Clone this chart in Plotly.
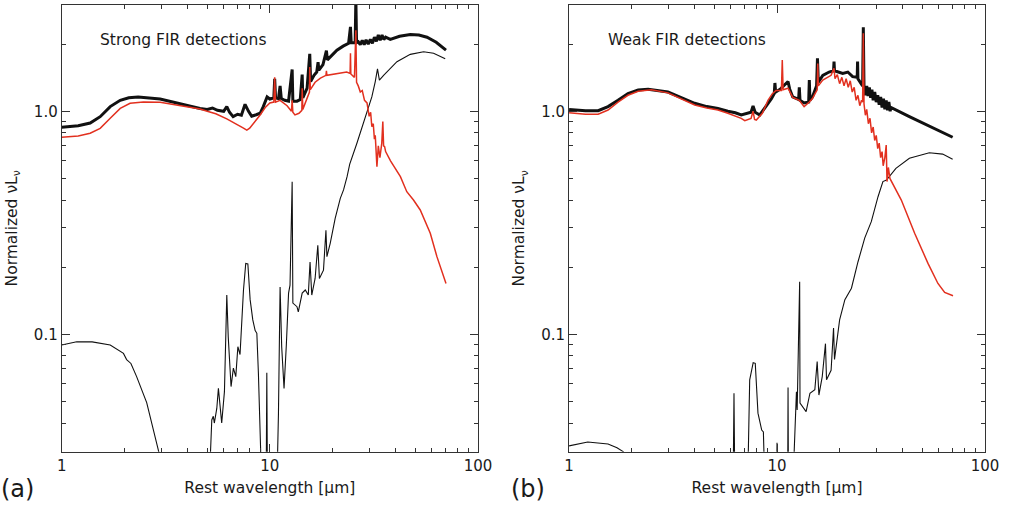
import plotly.graph_objects as go

# ---------------- Panel (a): Strong FIR detections ----------------
wl_a_total = [1.0, 1.2, 1.37, 1.53, 1.71, 1.91, 2.1, 2.33, 2.97, 3.70, 4.62, 5.0, 5.3, 5.6, 6.0, 6.21, 6.4,
              6.66, 7.0, 7.3, 7.6, 7.9, 8.18, 8.6, 8.98, 9.3, 9.7, 10.0, 10.45, 10.55, 10.65, 11.0, 11.2, 11.35,
              11.8, 12.3, 12.8, 12.9, 13.5, 14.0, 14.3, 14.4, 15.1, 15.55, 15.7, 16.3, 16.8, 17.05, 17.2, 18.0,
              18.7, 18.9, 21.0, 22.5, 23.9, 24.4, 24.6, 25.7, 25.9, 26.1, 26.6, 27.2, 27.8, 28.4, 29.0, 29.7,
              30.4, 31.1, 31.8, 32.5, 33.2, 33.9, 34.6, 35.3, 36.0, 37.9, 42.0, 47.3, 52.0, 56.9, 63.0, 70.2]
a_total = [0.848, 0.862, 0.886, 0.946, 1.05, 1.12, 1.15, 1.16, 1.135, 1.08, 1.03, 1.02, 1.035, 1.01, 1.0, 1.05, 0.99,
           0.946, 0.97, 0.96, 1.075, 1.0, 0.95, 0.965, 0.98, 1.05, 1.16, 1.135, 1.15, 1.40, 1.15, 1.14, 1.30, 1.14,
           1.12, 1.11, 1.54, 1.11, 1.11, 1.13, 1.46, 1.15, 1.27, 1.81, 1.36, 1.45, 1.50, 1.66, 1.53, 1.62,
           1.87, 1.70, 1.88, 1.96, 2.02, 2.39, 2.03, 2.03, 3.2, 2.03, 2.05, 1.99, 2.08, 1.99, 2.09, 2.0,
           2.10, 2.02, 2.15, 2.06, 2.20, 2.08, 2.20, 2.10, 2.15, 2.10, 2.17, 2.21, 2.20, 2.15, 2.04, 1.88]

wl_a_red = [1.0, 1.2, 1.37, 1.53, 1.71, 1.91, 2.13, 2.47, 2.97, 3.70, 4.62, 5.0, 5.5, 6.21, 6.6, 7.0, 7.4, 7.75,
            8.0, 8.5, 8.98, 9.5, 10.0, 10.45, 10.55, 10.65, 11.2, 12.1, 12.7, 12.8, 12.9, 13.2, 13.8, 14.25, 14.3,
            14.4, 15.0, 15.5, 15.55, 15.65, 16.5, 17.5, 18.6, 18.7, 18.8, 21.0, 23.4, 24.3, 24.4, 24.5, 25.5, 25.9,
            26.1, 26.6, 27.2, 27.8, 28.5, 29.3, 30.0, 30.5, 30.9, 31.4, 31.8, 32.1, 32.4, 32.7, 33.2, 33.8, 34.5,
            34.9, 35.2, 35.6, 36.0, 38.0, 42.4, 45.5, 49.0, 52.8, 59.0, 63.5, 70.2]
a_red = [0.765, 0.775, 0.797, 0.839, 0.93, 1.03, 1.086, 1.10, 1.097, 1.056, 1.024, 1.0, 0.975, 0.925, 0.90, 0.87,
         0.845, 0.824, 0.84, 0.90, 0.963, 1.04, 1.09, 1.10, 1.42, 1.10, 1.12, 1.06, 1.0, 1.12, 0.99, 0.963, 0.98,
         1.01, 1.27, 1.02, 1.12, 1.22, 1.58, 1.25, 1.35, 1.41, 1.45, 1.52, 1.45, 1.47, 1.50, 1.48, 1.82, 1.47,
         1.42, 2.31, 1.35, 1.30, 1.22, 1.24, 1.12, 1.09, 0.95, 0.99, 0.853, 0.88, 0.75, 0.78, 0.66, 0.564,
         0.70, 0.62, 0.72, 0.90, 0.70, 0.694, 0.66, 0.60, 0.509, 0.436, 0.40, 0.361, 0.284, 0.223, 0.169]

wl_a_star = [1.0, 1.18, 1.4, 1.71, 1.98, 2.05, 2.15, 2.29, 2.56, 2.89, 3.0]
a_star = [0.0895, 0.0926, 0.0925, 0.0895, 0.0821, 0.077, 0.074, 0.0646, 0.0494, 0.0303, 0.027]

wl_a_sb = [5.10, 5.26, 5.35, 5.41, 5.56, 5.66, 5.87, 6.05, 6.21, 6.31, 6.51, 6.68, 6.86, 7.02, 7.19, 7.47, 7.66,
           7.84, 8.04, 8.28, 8.50, 8.66, 8.81, 8.98, 9.15, 9.6, 9.67, 9.74, 10.8, 11.0, 11.2, 11.4, 11.7, 12.0,
           12.3, 12.5, 12.8, 12.9, 13.5, 13.7, 14.3, 14.8, 15.3, 15.6, 15.9, 16.5, 17.0, 17.3, 18.1, 18.6, 18.8,
           19.5, 20.6, 21.8, 22.6, 23.5, 24.2, 26.2, 29.3, 30.9, 32.1, 32.9, 33.6, 35.2, 40.8, 47.3, 54.8, 61.2,
           69.6]
a_sb = [0.02, 0.0413, 0.0429, 0.0400, 0.0465, 0.0572, 0.0400, 0.0553, 0.150, 0.0976, 0.0583, 0.0705, 0.0646,
        0.0880, 0.0811, 0.158, 0.208, 0.207, 0.143, 0.116, 0.104, 0.101, 0.0669, 0.0413, 0.02, 0.02, 0.0673, 0.02,
        0.02, 0.0443, 0.163, 0.088, 0.0572, 0.0895, 0.153, 0.166, 0.483, 0.138, 0.133, 0.126, 0.153, 0.158, 0.150,
        0.211, 0.150, 0.178, 0.251, 0.178, 0.194, 0.293, 0.223, 0.256, 0.331, 0.407, 0.444, 0.509, 0.58, 0.719,
        0.979, 1.16, 1.36, 1.55, 1.38, 1.45, 1.67, 1.80, 1.85, 1.82, 1.72]

# ---------------- Panel (b): Weak FIR detections ----------------
wl_b_total = [1.0, 1.2, 1.38, 1.54, 1.72, 1.92, 2.15, 2.40, 2.99, 3.47, 4.02, 4.6, 5.2, 5.8, 6.3, 6.73, 7.2, 7.5,
              7.67, 7.85, 8.26, 8.8, 9.4, 9.7, 9.77, 9.85, 10.4, 11.3, 11.5, 11.9, 12.7, 12.8, 12.9, 13.5, 14.2,
              14.3, 14.4, 14.8, 15.5, 15.65, 15.8, 16.6, 17.8, 18.7, 18.8, 18.9, 20.7, 21.9, 23.1, 24.3, 24.4, 24.5,
              25.8, 26.0, 26.2, 26.6, 27.0, 27.4, 27.8, 28.2, 28.6, 29.0, 29.5, 30.0, 30.5, 31.0, 31.5, 32.0, 32.5,
              33.0, 33.5, 34.0, 34.5, 35.0, 35.3, 43.3, 54.0, 69.9]
b_total = [1.02, 1.005, 1.006, 1.05, 1.12, 1.20, 1.245, 1.255, 1.22, 1.155, 1.086, 1.05, 1.03, 1.0, 0.985, 0.963,
           0.975, 0.99, 1.056, 0.99, 0.963, 1.04, 1.14, 1.2, 1.34, 1.22, 1.26, 1.36, 1.26, 1.16, 1.13, 1.28, 1.12,
           1.09, 1.10, 1.38, 1.12, 1.16, 1.30, 1.73, 1.35, 1.45, 1.50, 1.52, 1.67, 1.52, 1.48, 1.50, 1.43, 1.42,
           1.67, 1.40, 1.30, 2.38, 1.28, 1.18, 1.30, 1.17, 1.28, 1.15, 1.25, 1.12, 1.22, 1.10, 1.18, 1.07, 1.16,
           1.04, 1.14, 1.02, 1.12, 1.01, 1.10, 1.0, 1.04, 0.946, 0.859, 0.765]

wl_b_red = [1.0, 1.2, 1.38, 1.54, 1.72, 1.92, 2.15, 2.49, 2.99, 3.47, 4.02, 4.6, 5.2, 5.8, 6.3, 6.73, 7.0, 7.5,
            7.67, 7.8, 7.95, 8.5, 9.05, 9.5, 9.89, 10.5, 10.6, 10.7, 11.3, 11.9, 12.8, 13.5, 14.3, 14.8, 15.6, 15.7,
            15.8, 16.6, 18.2, 18.8, 19.0, 19.5, 20.0, 20.5, 21.0, 21.5, 22.0, 22.5, 23.0, 23.5, 24.0, 24.5, 25.0,
            25.5, 25.8, 26.0, 26.2, 26.6, 27.0, 27.5, 28.0, 28.5, 29.0, 29.5, 30.0, 30.5, 31.0, 31.5, 32.0, 32.4,
            33.0, 33.5, 33.8, 34.3, 34.9, 39.6, 45.9, 53.2, 59.4, 64.0, 70.2]
b_red = [0.986, 0.97, 0.97, 1.013, 1.10, 1.18, 1.23, 1.25, 1.21, 1.135, 1.067, 1.035, 1.013, 0.98, 0.955, 0.93,
         0.908, 0.93, 1.0, 0.92, 0.914, 0.98, 1.12, 1.2, 1.24, 1.24, 1.70, 1.25, 1.27, 1.155, 1.12, 1.05, 1.10, 1.14,
         1.25, 1.64, 1.30, 1.38, 1.45, 1.56, 1.40, 1.46, 1.33, 1.42, 1.30, 1.40, 1.28, 1.37, 1.22, 1.28, 1.12,
         1.18, 1.06, 1.12, 1.10, 2.24, 1.08, 0.96, 1.02, 0.88, 0.93, 0.80, 0.85, 0.74, 0.78, 0.68, 0.72, 0.62,
         0.66, 0.57, 0.62, 0.706, 0.484, 0.56, 0.50, 0.400, 0.284, 0.208, 0.169, 0.154, 0.149]

wl_b_star = [1.0, 1.23, 1.54, 1.7, 1.82, 1.9]
b_star = [0.0316, 0.0329, 0.0322, 0.031, 0.0298, 0.028]

wl_b_sb = [6.15, 6.21, 6.27, 7.1, 7.28, 7.39, 7.68, 7.86, 8.1, 8.44, 8.6, 8.75, 9.95, 10.0, 10.05, 11.25, 11.3, 11.35,
           11.9, 12.2, 12.4, 12.5, 12.85, 12.9, 13.3, 13.8, 14.4, 15.2, 15.6, 15.9, 16.5, 17.1, 17.3, 18.2, 18.7,
           18.9, 20.0, 21.2, 22.8, 24.5, 26.4, 28.4, 30.6, 32.3, 33.6, 37.3, 43.3, 54.0, 62.6, 69.9]
b_sb = [0.02, 0.0544, 0.02, 0.02, 0.03, 0.0625, 0.0746, 0.0741, 0.0443, 0.0372, 0.0365, 0.02, 0.02, 0.0326, 0.02,
        0.02, 0.0578, 0.02, 0.02, 0.0413, 0.0553, 0.0458, 0.172, 0.0491, 0.0474, 0.045, 0.0544, 0.0564, 0.0754,
        0.0534, 0.0646, 0.0908, 0.0625, 0.069, 0.1066, 0.0771, 0.116, 0.143, 0.161, 0.211, 0.270, 0.320, 0.414,
        0.484, 0.492, 0.555, 0.616, 0.652, 0.643, 0.609]

panel_labels = ["(a)", "(b)"]
panel_titles = ["Strong FIR detections", "Weak FIR detections"]
x_tickvals = [1, 10, 100]
x_ticktext = ["1", "10", "100"]
x_minor = [2, 3, 4, 5, 6, 7, 8, 9, 20, 30, 40, 50, 60, 70, 80, 90]
y_tickvals = [0.1, 1.0]
y_ticktext = ["0.1", "1.0"]
y_minor = [0.04, 0.05, 0.06, 0.07, 0.08, 0.09, 0.2, 0.3, 0.4, 0.5, 0.6, 0.7, 0.8, 0.9, 2, 3]

BLACK = "#111111"
RED = "#e2301f"
FONT = "DejaVu Sans"
TXT = "#1a1a1a"

fig = go.Figure()
series = [
    (wl_a_star, a_star, "x", "y", BLACK, 1.1),
    (wl_a_sb, a_sb, "x", "y", BLACK, 1.1),
    (wl_a_total, a_total, "x", "y", BLACK, 3.0),
    (wl_a_red, a_red, "x", "y", RED, 1.5),
    (wl_b_star, b_star, "x2", "y2", BLACK, 1.1),
    (wl_b_sb, b_sb, "x2", "y2", BLACK, 1.1),
    (wl_b_total, b_total, "x2", "y2", BLACK, 3.0),
    (wl_b_red, b_red, "x2", "y2", RED, 1.5),
]
for xs, ys, xa, ya, col, w in series:
    fig.add_trace(go.Scatter(x=xs, y=ys, xaxis=xa, yaxis=ya, mode="lines",
                             line=dict(color=col, width=w), showlegend=False, hoverinfo="skip"))

ydom = [0.1073, 0.9901]
axis_common = dict(type="log", showline=True, linecolor="#333", linewidth=1, mirror="allticks",
                   ticks="inside", ticklen=8, tickcolor="#333", showgrid=False, zeroline=False,
                   automargin=False, tickfont=dict(size=15, color=TXT, family=FONT))
xcommon = dict(axis_common, range=[0, 2], tickmode="array", tickvals=x_tickvals, ticktext=x_ticktext,
               minor=dict(ticks="inside", ticklen=4, tickvals=x_minor, tickcolor="#333"),
               title=dict(text="Rest wavelength [µm]", font=dict(size=15.5, family=FONT, color=TXT), standoff=8))
ycommon = dict(axis_common, range=[-1.5265, 0.4767], tickmode="array", tickvals=y_tickvals, ticktext=y_ticktext,
               minor=dict(ticks="inside", ticklen=4, tickvals=y_minor, tickcolor="#333"),
               title=dict(text="Normalized νL<sub>ν</sub>", font=dict(size=15.5, family=FONT, color=TXT), standoff=12))

fig.update_layout(
    width=1012, height=506, margin=dict(l=0, r=0, t=0, b=0, autoexpand=False),
    paper_bgcolor="white", plot_bgcolor="white",
    font=dict(family=FONT, color=TXT),
    xaxis=dict(xcommon, domain=[0.061, 0.4723], anchor="y"),
    yaxis=dict(ycommon, domain=ydom, anchor="x"),
    xaxis2=dict(xcommon, domain=[0.5623, 0.9733], anchor="y2"),
    yaxis2=dict(ycommon, domain=ydom, anchor="x2"),
)

ann_pos = [(98 / 1012, 40 / 506), (606 / 1012, 40 / 506)]
lab_pos = [17 / 1012, 528 / 1012]
for i in range(2):
    fig.add_annotation(text=panel_titles[i], xref="paper", yref="paper", x=ann_pos[i][0], y=1 - ann_pos[i][1],
                       xanchor="left", yanchor="middle", showarrow=False, font=dict(size=15.5, family=FONT, color=TXT))
    fig.add_annotation(text=panel_labels[i], xref="paper", yref="paper", x=lab_pos[i], y=1 - 489 / 506,
                       xanchor="center", yanchor="middle", showarrow=False, font=dict(size=24, family=FONT, color=TXT))

fig.write_html("out.html", config={"displayModeBar": False},
               post_script="document.body.style.margin='0px';")
